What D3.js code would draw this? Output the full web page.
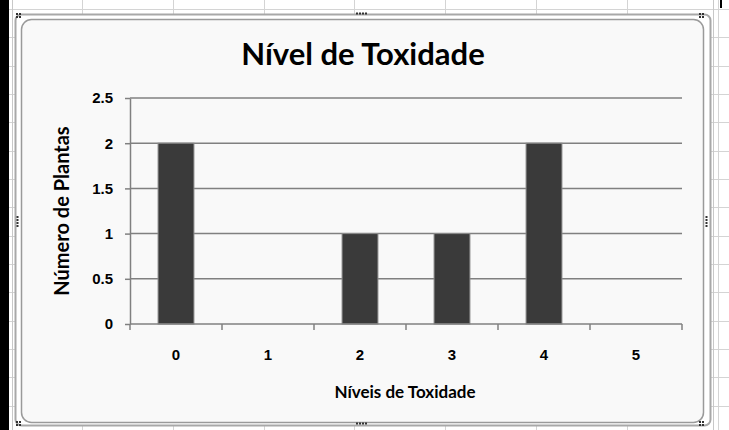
<!DOCTYPE html>
<html lang="pt">
<head>
  <meta charset="UTF-8" />
  <title>Nível de Toxidade</title>
  <style>
    html, body { margin: 0; padding: 0; background: #fff; overflow: hidden; }
    svg { display: block; font-family: Lato, "Liberation Sans", sans-serif; }
    .grid line { stroke: #808080; stroke-width: 1.5px; }
    .axis path, .axis line { stroke: #808080; stroke-width: 1.5px; }
    .axis text { font-size: 15px; font-weight: bold; fill: #000; }
    .sheet line { stroke: #d4d4d4; stroke-width: 1px; }
  </style>
</head>
<body>
  <svg width="729" height="430"></svg>

  <script src="https://d3js.org/d3.v7.min.js"></script>
  <script>
    // data
    const levels = ["0", "1", "2", "3", "4", "5"];
    const counts = [2, 0, 1, 1, 2, 0];
    const yTicks = [0, 0.5, 1, 1.5, 2, 2.5];
    const title = "Nível de Toxidade";
    const xTitle = "Níveis de Toxidade";
    const yTitle = "Número de Plantas";

    const W = 729, H = 430;
    const plot = { left: 130, right: 682, top: 98, bottom: 324 };

    const svg = d3.select("svg");

    // spreadsheet behind the chart
    const sheet = svg.append("g").attr("class", "sheet");
    sheet.selectAll(".col")
      .data(d3.range(82, W, 90.8))
      .join("line")
      .attr("x1", d => Math.round(d) + 0.5).attr("x2", d => Math.round(d) + 0.5)
      .attr("y1", 0).attr("y2", H);
    sheet.selectAll(".row")
      .data(d3.range(8.8, H, 28.35))
      .join("line")
      .attr("x1", 0).attr("x2", W)
      .attr("y1", d => Math.round(d) + 0.5).attr("y2", d => Math.round(d) + 0.5);
    sheet.append("line").attr("x1", 12.5).attr("x2", 12.5).attr("y1", 0).attr("y2", H)
      .style("stroke", "#c8c8c8");
    sheet.append("line").attr("x1", 713.5).attr("x2", 713.5).attr("y1", 0).attr("y2", H)
      .style("stroke", "#c8c8c8");

    // black strips at the edges of the screenshot
    svg.append("rect").attr("x", 0).attr("y", 0).attr("width", 9).attr("height", H).attr("fill", "#000");
    svg.append("rect").attr("x", 720).attr("y", 0).attr("width", 2).attr("height", 8).attr("fill", "#000");

    // selection frame + chart area
    svg.append("rect")
      .attr("x", 15.5).attr("y", 14.5).attr("width", 695).attr("height", 411)
      .attr("rx", 6)
      .attr("fill", "#fff").attr("stroke", "#a8a8a8").attr("stroke-width", 2);
    svg.append("rect")
      .attr("x", 21.5).attr("y", 19.5).attr("width", 682).attr("height", 403)
      .attr("rx", 10)
      .attr("fill", "#f9f9f9").attr("stroke", "#9a9a9a").attr("stroke-width", 1.5);

    // handles
    const handles = [
      [19, 16, 2, 2], [702, 16, 2, 2], [19, 424, 2, 2], [702, 424, 2, 2],
      [362, 14, 4, 1], [362, 424, 4, 1], [18, 222, 1, 4], [707, 222, 1, 4]
    ];
    handles.forEach(([cx, cy, nx, ny]) => {
      for (let i = 0; i < nx; i++) {
        for (let j = 0; j < ny; j++) {
          svg.append("rect")
            .attr("x", cx - nx * 1.5 + i * 3).attr("y", cy - ny * 1.5 + j * 3)
            .attr("width", 2).attr("height", 2).attr("fill", "#333");
        }
      }
    });

    const x = d3.scaleBand().domain(levels).range([plot.left, plot.right]);
    const y = d3.scaleLinear().domain([0, 2.5]).range([plot.bottom, plot.top]);

    // gridlines
    svg.append("g").attr("class", "grid")
      .selectAll("line")
      .data(yTicks.filter(d => d > 0))
      .join("line")
      .attr("x1", plot.left).attr("x2", plot.right)
      .attr("y1", d => y(d)).attr("y2", d => y(d));

    // bars
    const barW = x.bandwidth() * 0.39;
    svg.append("g")
      .selectAll("rect")
      .data(levels.map((l, i) => ({ level: l, value: counts[i] })).filter(d => d.value > 0))
      .join("rect")
      .attr("x", d => x(d.level) + (x.bandwidth() - barW) / 2)
      .attr("y", d => y(d.value))
      .attr("width", barW)
      .attr("height", d => y(0) - y(d.value))
      .attr("fill", "#3a3a3a")
      .attr("stroke", "#8c8c8c")
      .attr("stroke-width", 1);

    // axes
    const yAxis = svg.append("g").attr("class", "axis")
      .attr("transform", `translate(${plot.left},0)`)
      .call(d3.axisLeft(y).tickValues(yTicks).tickSize(5).tickSizeOuter(0).tickFormat(d3.format("")));
    yAxis.selectAll("text").attr("x", -17);

    const xAxis = svg.append("g").attr("class", "axis")
      .attr("transform", `translate(0,${plot.bottom})`)
      .call(d3.axisBottom(x).tickSize(0).tickSizeOuter(0));
    xAxis.select(".domain").remove();
    xAxis.append("line")
      .attr("x1", plot.left).attr("x2", plot.right)
      .attr("y1", 0).attr("y2", 0);
    xAxis.selectAll(".sep")
      .data(d3.range(levels.length + 1))
      .join("line")
      .attr("x1", i => plot.left + i * x.step()).attr("x2", i => plot.left + i * x.step())
      .attr("y1", 0).attr("y2", 6);
    xAxis.selectAll(".tick text").attr("y", 25);

    // titles
    svg.append("text")
      .attr("x", 363).attr("y", 65)
      .attr("text-anchor", "middle")
      .style("font-size", "31px").style("font-weight", "bold")
      .text(title);

    svg.append("text")
      .attr("x", 405).attr("y", 398)
      .attr("text-anchor", "middle")
      .style("font-size", "17px").style("font-weight", "bold")
      .text(xTitle);

    svg.append("text")
      .attr("transform", "translate(69,211) rotate(-90)")
      .attr("text-anchor", "middle")
      .style("font-size", "20px").style("font-weight", "bold")
      .text(yTitle);
  </script>
</body>
</html>
